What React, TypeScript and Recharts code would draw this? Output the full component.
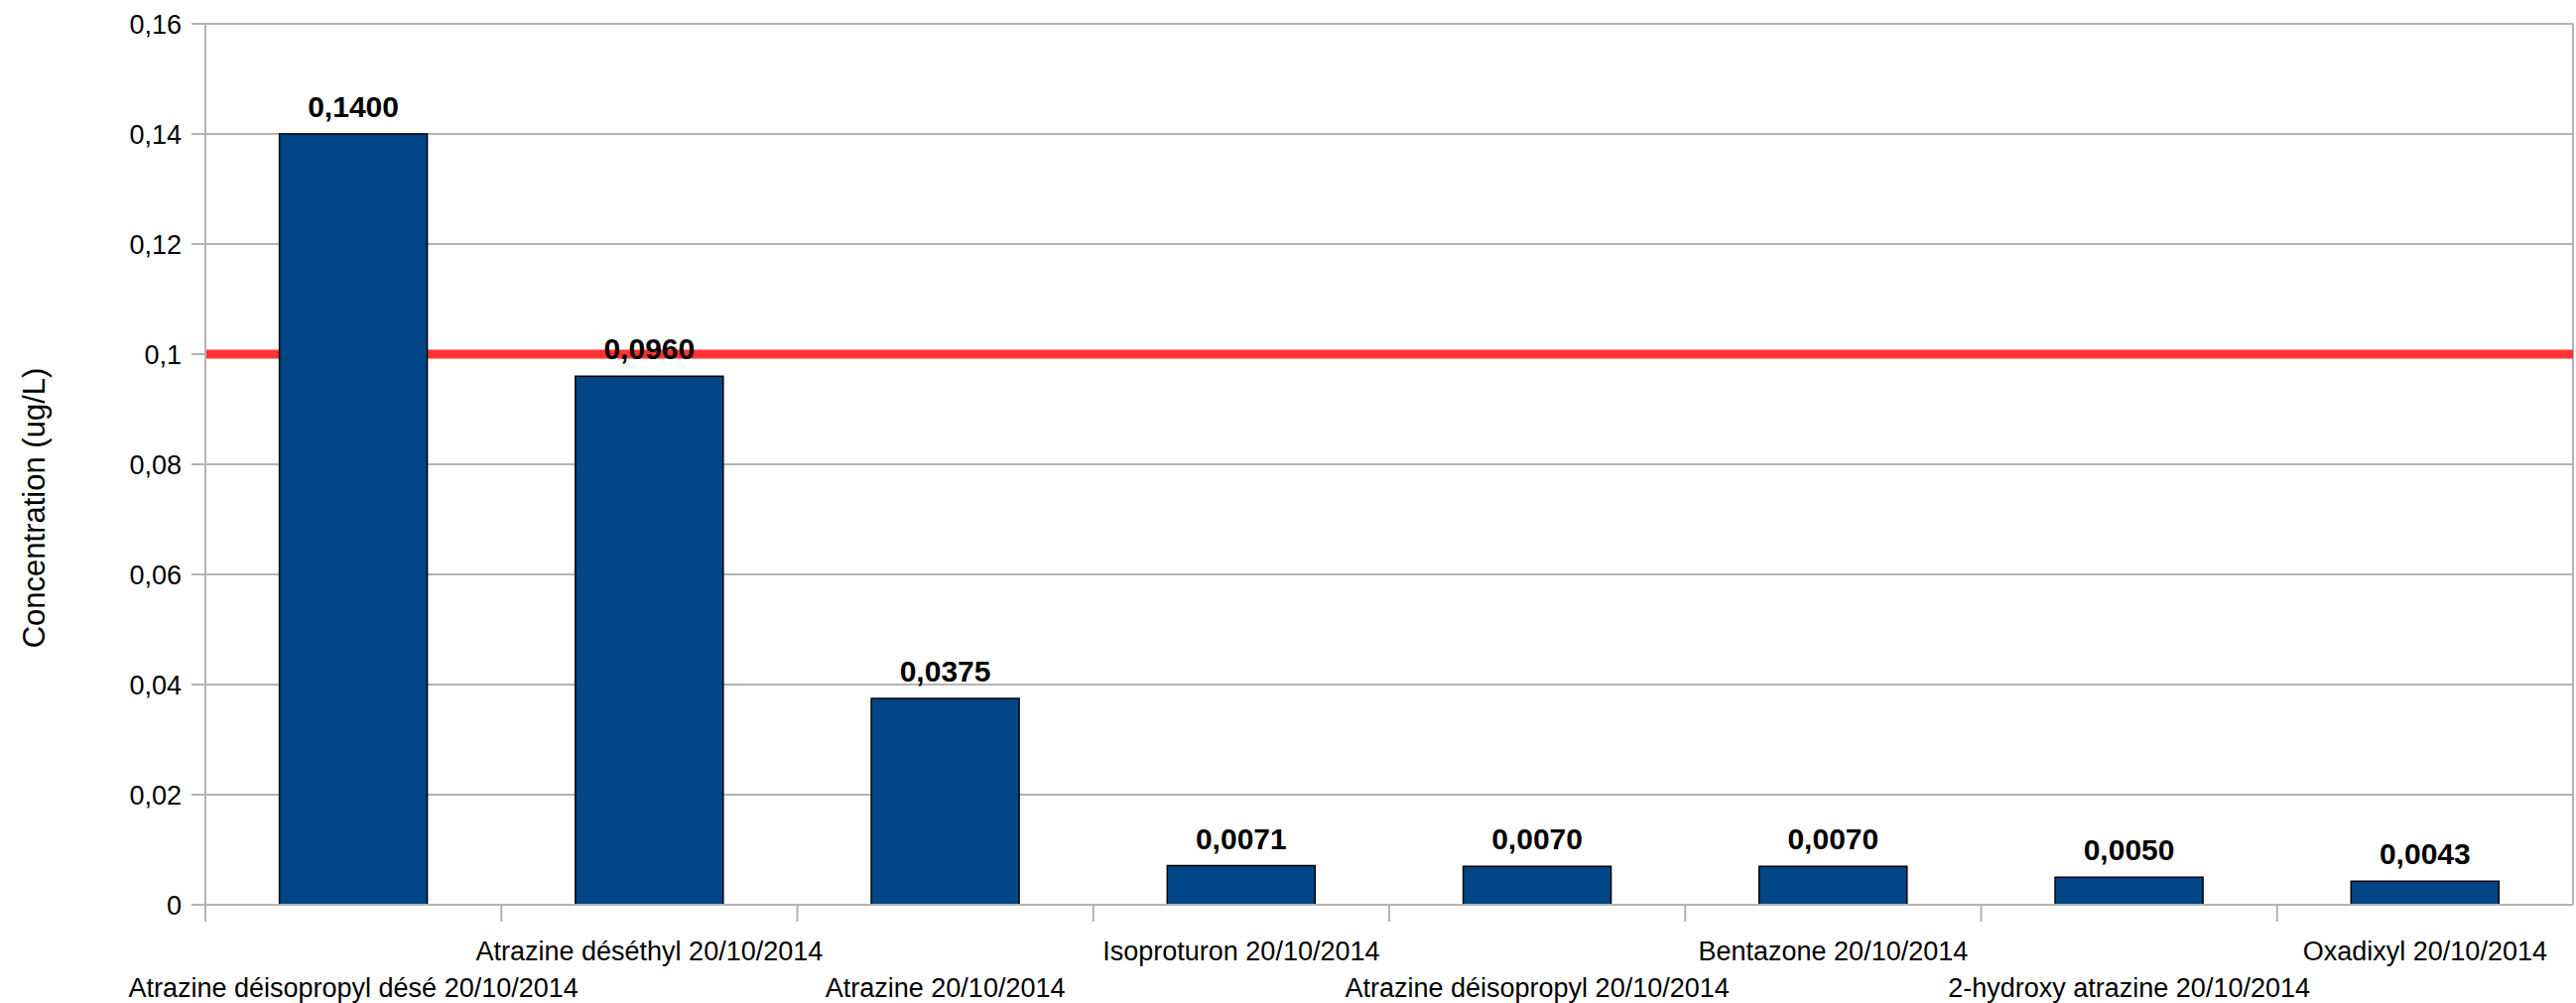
import React from 'react'
import {
  BarChart,
  Bar,
  XAxis,
  YAxis,
  CartesianGrid,
  LabelList,
} from 'recharts'

const categories = [
  'Atrazine déisopropyl désé 20/10/2014',
  'Atrazine déséthyl 20/10/2014',
  'Atrazine 20/10/2014',
  'Isoproturon 20/10/2014',
  'Atrazine déisopropyl 20/10/2014',
  'Bentazone 20/10/2014',
  '2-hydroxy atrazine 20/10/2014',
  'Oxadixyl 20/10/2014',
]

const concentrations = [0.14, 0.096, 0.0375, 0.0071, 0.007, 0.007, 0.005, 0.0043]

const yTicks = [0, 0.02, 0.04, 0.06, 0.08, 0.1, 0.12, 0.14, 0.16]

const limitValue = 0.1

const data = categories.map((name, i) => ({ name, value: concentrations[i] }))

const WIDTH = 2596
const HEIGHT = 1011
const PLOT_LEFT = 207
const PLOT_RIGHT = 2593
const PLOT_TOP = 24
const PLOT_BOTTOM = 912
const BAND = (PLOT_RIGHT - PLOT_LEFT) / categories.length
const GRID = '#b3b3b3'
const FONT = '"Liberation Sans", Arial, sans-serif'
const Y_MIN = yTicks[0]
const Y_MAX = yTicks[yTicks.length - 1]

const comma = (v: number | string) => String(v).replace('.', ',')

function CategoryTick(props: any) {
  const { x, payload, index } = props
  const left = x - BAND / 2
  const baseline = index % 2 === 0 ? 1005 : 968
  return (
    <g>
      <line x1={left} x2={left} y1={PLOT_BOTTOM} y2={PLOT_BOTTOM + 17} stroke={GRID} strokeWidth={2} />
      <text x={x} y={baseline} textAnchor="middle" fontSize={27} fontFamily={FONT} fill="#000">
        {payload.value}
      </text>
    </g>
  )
}

function YTitle() {
  return (
    <text
      x={45}
      y={512}
      transform="rotate(-90, 45, 512)"
      textAnchor="middle"
      fontSize={31}
      fontFamily={FONT}
      fill="#000"
    >
      Concentration (ug/L)
    </text>
  )
}

// limit line drawn as a grid line so it sits behind the bars
const limitCoords = (args: any) => {
  const { yAxis, offset } = args || {}
  if (yAxis && typeof yAxis.scale === 'function') {
    const y = yAxis.scale(limitValue)
    if (Number.isFinite(y)) return [y]
  }
  const top = offset?.top ?? PLOT_TOP
  const h = offset?.height ?? PLOT_BOTTOM - PLOT_TOP
  return [top + h * (1 - (limitValue - Y_MIN) / (Y_MAX - Y_MIN))]
}

export default function App() {
  return (
    <div style={{ position: 'absolute', left: 0, top: 0, background: '#fff' }}>
      <BarChart
        width={WIDTH}
        height={HEIGHT}
        data={data}
        margin={{ top: PLOT_TOP, right: WIDTH - PLOT_RIGHT, bottom: 0, left: 0 }}
        barCategoryGap="25%"
      >
        <CartesianGrid
          stroke={GRID}
          strokeWidth={2}
          vertical
          verticalPoints={[PLOT_RIGHT]}
        />
        <CartesianGrid
          stroke="#ff3333"
          strokeWidth={9}
          vertical={false}
          horizontalCoordinatesGenerator={limitCoords}
          syncWithTicks={false}
        />
        <XAxis
          dataKey="name"
          interval={0}
          height={HEIGHT - PLOT_BOTTOM}
          tickLine={false}
          axisLine={{ stroke: GRID, strokeWidth: 2 }}
          tick={<CategoryTick />}
        />
        <YAxis
          width={PLOT_LEFT}
          domain={[Y_MIN, Y_MAX]}
          ticks={yTicks}
          tickFormatter={comma}
          tickSize={14}
          tickMargin={10}
          tickLine={{ stroke: GRID, strokeWidth: 2 }}
          axisLine={{ stroke: GRID, strokeWidth: 2 }}
          tick={{ fill: '#000', fontSize: 27, fontFamily: FONT }}
          label={<YTitle />}
        />
        <Bar dataKey="value" fill="#004586" stroke="#000" strokeWidth={1.5} isAnimationActive={false}>
          <LabelList
            dataKey="value"
            position="top"
            offset={17}
            formatter={(v: any) => comma(Number(v).toFixed(4))}
            style={{ fill: '#000', fontSize: 30, fontWeight: 'bold', fontFamily: FONT }}
          />
        </Bar>
      </BarChart>
    </div>
  )
}
